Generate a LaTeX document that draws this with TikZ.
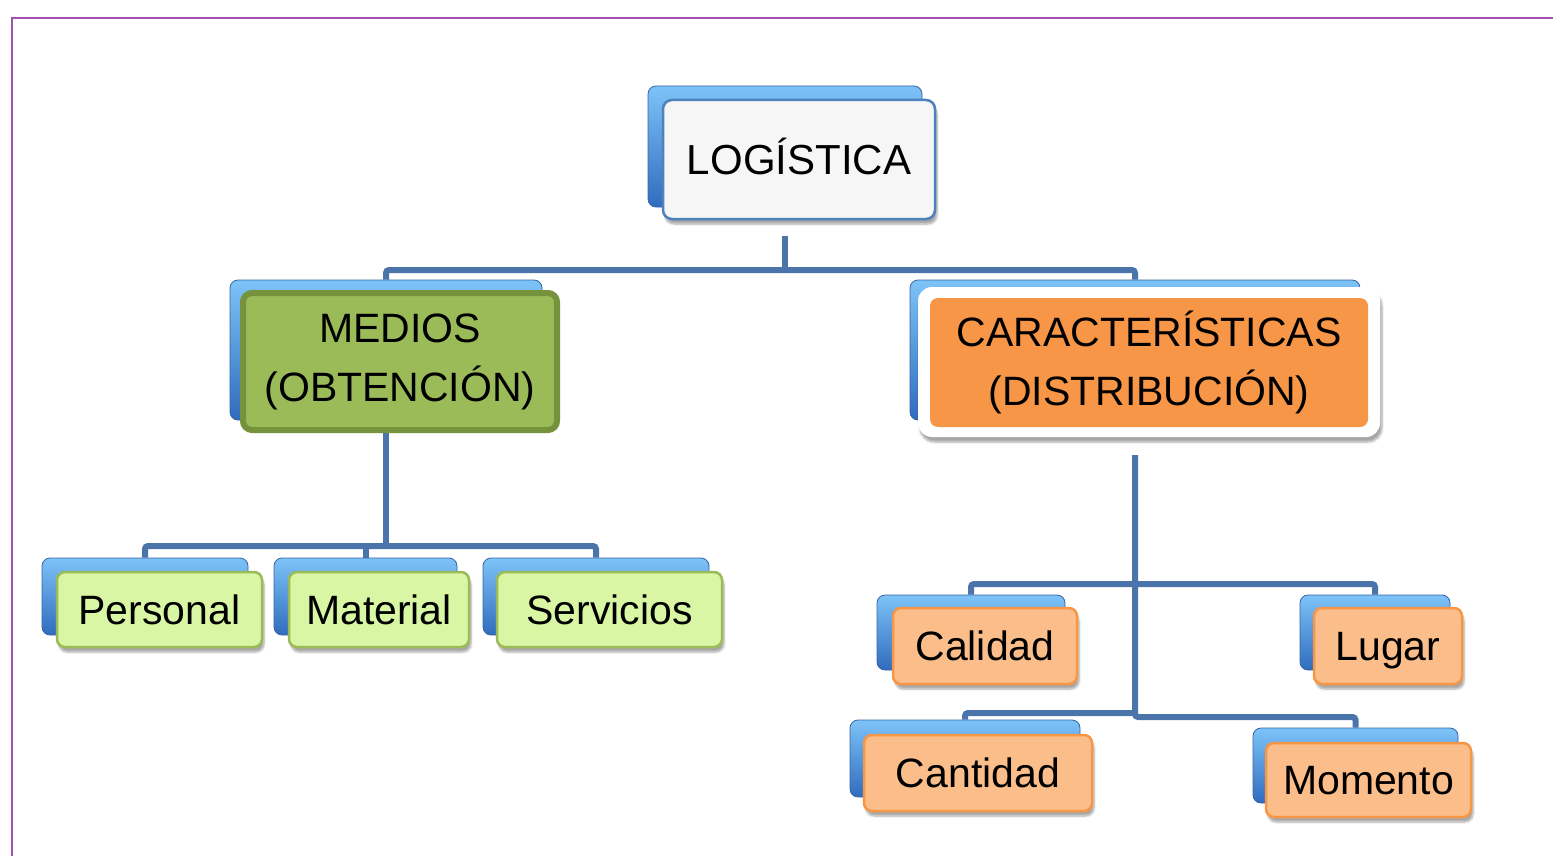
\documentclass[tikz,border=0pt]{standalone}
\usepackage{fontspec}
\setmainfont{Liberation Sans}
\usetikzlibrary{shadows.blur}
\pgfdeclarelayer{bg}
\pgfsetlayers{bg,main}
\definecolor{connc}{RGB}{74,116,170}
\definecolor{framec}{RGB}{162,80,178}
\definecolor{backtop}{RGB}{125,195,248}
\definecolor{backbot}{RGB}{48,108,190}
\definecolor{backdraw}{RGB}{55,100,165}
\definecolor{logfill}{RGB}{246,246,246}
\definecolor{logdraw}{RGB}{79,129,189}
\definecolor{medfill}{RGB}{155,187,89}
\definecolor{meddraw}{RGB}{118,146,60}
\definecolor{leafgfill}{RGB}{216,246,163}
\definecolor{leafgdraw}{RGB}{155,187,89}
\definecolor{carfill}{RGB}{247,150,70}
\definecolor{leafofill}{RGB}{251,190,138}
\definecolor{leafodraw}{RGB}{247,150,70}
\begin{document}
\begin{tikzpicture}[x=1pt,y=-1pt,
  every node/.style={font=\fontsize{41}{59}\selectfont, text=black, inner sep=0pt},
  conn/.style={line width=6pt, draw=connc, rounded corners=3pt},
  backbox/.style={rectangle, rounded corners=8pt, draw=backdraw, line width=0.8pt, top color=backtop, bottom color=backbot},
  softshadow/.style={blur shadow={shadow xshift=2pt, shadow yshift=-5pt, shadow opacity=35, shadow blur steps=6}},
  onel/.style={text height=29.4pt, text depth=0pt},
  logbox/.style={rectangle, rounded corners=9pt, draw=logdraw, line width=2.5pt, fill=logfill, softshadow, text height=30pt, text depth=0pt, font=\fontsize{42}{50}\selectfont},
  medbox/.style={rectangle, rounded corners=9pt, draw=meddraw, line width=6pt, fill=medfill, align=center},
  carframe/.style={rectangle, rounded corners=14pt, fill=white, softshadow},
  carbox/.style={rectangle, rounded corners=8pt, fill=carfill, align=center},
  leafg/.style={rectangle, rounded corners=8pt, draw=leafgdraw, line width=2.5pt, fill=leafgfill, softshadow, onel},
  leafo/.style={rectangle, rounded corners=8pt, draw=leafodraw, line width=2.5pt, fill=leafofill, softshadow, onel}]
\useasboundingbox (0,0) rectangle (1553,856);
\draw[framec, line width=2pt] (1553,18) -- (12,18) -- (12,856);

% back boxes
\node[backbox, minimum width=274, minimum height=121] (logb) at (785,146.5) {};
\node[backbox, minimum width=312, minimum height=140] (medb) at (386,350) {};
\node[backbox, minimum width=450, minimum height=140] (carb) at (1135,350) {};
\node[backbox, minimum width=206, minimum height=77] (perb) at (145,596.5) {};
\node[backbox, minimum width=183, minimum height=77] (matb) at (365.5,596.5) {};
\node[backbox, minimum width=226, minimum height=77] (serb) at (596,596.5) {};
\node[backbox, minimum width=188, minimum height=75] (calb) at (971,632.5) {};
\node[backbox, minimum width=150, minimum height=75] (lugb) at (1375,632.5) {};
\node[backbox, minimum width=230, minimum height=77] (canb) at (965,758.5) {};
\node[backbox, minimum width=205, minimum height=75] (momb) at (1355.5,765.5) {};

% front boxes
\node[logbox, minimum width=272, minimum height=119] (log) at (799,159.5) {LOGÍSTICA};
\node[medbox, minimum width=314, minimum height=137] (med) at (400,361.5) {MEDIOS\\(OBTENCIÓN)};
\node[carframe, minimum width=462, minimum height=150] (carw) at (1149,362) {};
\node[carbox, minimum width=438, minimum height=129] (car) at (1149,362.5) {CARACTERÍSTICAS\\(DISTRIBUCIÓN)};
\node[leafg, minimum width=205, minimum height=75] (per) at (159.5,609.5) {Personal};
\node[leafg, minimum width=180, minimum height=75] (mat) at (379,609.5) {Material};
\node[leafg, minimum width=225, minimum height=75] (ser) at (609.5,609.5) {Servicios};
\node[leafo, minimum width=184, minimum height=76] (cal) at (985,646) {Calidad};
\node[leafo, minimum width=148, minimum height=76] (lug) at (1388,646) {Lugar};
\node[leafo, minimum width=228, minimum height=76] (can) at (978,773) {Cantidad};
\node[leafo, minimum width=205, minimum height=74] (mom) at (1368.5,780) {Momento};

% connectors
\begin{pgfonlayer}{bg}
\coordinate (l0) at (785,236);
\coordinate (l1) at (785,270);
\draw[conn] (l0) -- (l1);
\draw[conn] (medb.north) |- (l1) -| (carb.north);
\coordinate (m1) at (386,546);
\draw[conn] (medb.south) -- (m1);
\draw[conn] (perb.north) |- (m1) -| (serb.north);
\draw[conn] (matb.north) -- (matb.north |- m1);
\coordinate (c0) at (1135,455);
\coordinate (c1) at (1135,584);
\coordinate (c2) at (1135,713);
\coordinate (c3) at (1135,717);
\draw[conn] (c0) -- (c3) -| (momb.north);
\draw[conn] (calb.north) |- (c1) -| (lugb.north);
\draw[conn] (canb.north) |- (c2);
\end{pgfonlayer}
\end{tikzpicture}
\end{document}
